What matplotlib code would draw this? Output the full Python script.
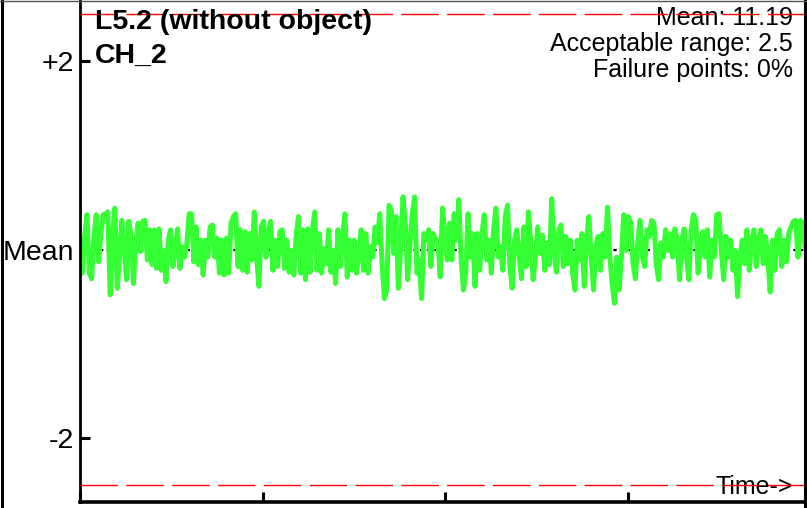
import numpy as np
import matplotlib
matplotlib.use('Agg')
import matplotlib.pyplot as plt
from matplotlib.lines import Line2D

# Deviation from the mean left to right
SIGNAL = [
    0.10, -0.25, 0.14, 0.37, -0.25, -0.31, 0.14, 0.37, -0.13, 0.17,
    0.37, 0.38, 0.40, -0.48, 0.10, 0.44, -0.41, -0.08, 0.31, 0.03,
    -0.32, 0.30, 0.14, -0.36, 0.07, 0.28, -0.02, 0.30, 0.31, -0.11,
    0.21, -0.16, 0.21, -0.20, 0.22, -0.22, -0.01, -0.34, 0.10, 0.21,
    -0.18, -0.01, 0.22, -0.20, 0.03, -0.08, 0.07, 0.38, 0.38, -0.13,
    0.24, -0.16, 0.10, -0.27, 0.10, -0.08, 0.24, 0.26, -0.08, 0.12,
    -0.25, 0.10, -0.27, 0.12, -0.25, 0.28, 0.35, 0.38, -0.18, 0.21,
    -0.22, 0.19, -0.24, 0.17, -0.11, 0.40, -0.08,
    -0.39, 0.24, 0.30, -0.08, 0.17, 0.30, -0.22, 0.10, -0.18, 0.19,
    0.21, -0.20, 0.10, -0.24, -0.01, -0.27, 0.14, 0.35, -0.25, 0.21,
    -0.32, 0.22, -0.24, 0.21, 0.40, -0.22, 0.17, -0.25, 0.01, -0.15,
    0.21, -0.24, -0.01, -0.36, 0.21, -0.18, 0.14, 0.38, -0.29, 0.10,
    -0.22, 0.10, -0.25, -0.04, 0.21, -0.22, 0.17, -0.25, 0.03, -0.08,
    0.24, 0.07, 0.38, -0.15, -0.52, -0.43, 0.47, 0.42, -0.04, 0.35,
    -0.41, 0.03, 0.56, 0.28, -0.32, 0.07, 0.38, 0.56, -0.25, -0.11,
    -0.52, 0.17, 0.10, 0.21, -0.18, 0.17, 0.10,
    0.10, -0.29, 0.44, 0.17, -0.11, 0.28, -0.11, 0.38, 0.10, 0.53,
    -0.08, -0.43, -0.25, 0.38, -0.08, 0.17, -0.39, 0.17, -0.22, 0.17,
    0.37, -0.11, 0.10, -0.25, 0.21, 0.44, -0.08, 0.03, -0.22, 0.35,
    0.47, -0.18, -0.41, 0.10, 0.21, -0.08, -0.31, 0.24, -0.18, 0.40,
    0.07, -0.32, -0.08, 0.24, -0.04, 0.15, -0.22, 0.07, -0.16, 0.54,
    -0.01, -0.24, 0.21, 0.26, -0.18, 0.14, -0.15, 0.10, -0.25, -0.43,
    0.10, -0.11, 0.17, -0.39, 0.10, 0.35, -0.08, -0.43, 0.03, 0.14,
    -0.22, 0.17, -0.08, 0.45, -0.08, -0.36, -0.57, -0.08, -0.43,
    -0.08, 0.37, -0.01, 0.35, 0.28, -0.15, -0.31, 0.07, 0.31, -0.08,
    -0.18, 0.21, 0.14, 0.31, 0.28, -0.16, -0.32, 0.07, -0.08, 0.21,
    -0.01, 0.17, -0.08, 0.22, 0.10, -0.32, 0.10, 0.22, -0.08, -0.32,
    0.21, 0.37, 0.31, -0.25, 0.07, 0.19, -0.08, 0.21, -0.29, 0.10,
    -0.08, 0.37, 0.38, -0.01, -0.32, 0.14, -0.08, 0.10, -0.22, -0.01,
    -0.50, -0.08, 0.10, -0.15, 0.21, -0.22, 0.07, 0.21, -0.18, 0.10,
    0.21, -0.15, 0.14, -0.08, -0.45, 0.10, -0.22, 0.17, 0.21, -0.18,
    0.10, -0.13, 0.17, 0.24, 0.30, 0.31, -0.08, 0.31, 0.28, 0.03,
]
ACCEPTABLE_RANGE = 2.5
Y_TICKS = [-2, 0, 2]
Y_LABELS = ['-2', 'Mean', '+2']
X_TICKS = [0, 1, 2, 3]
X_END = 3.97

TITLE = "L5.2 (without object)"
CHANNEL = "CH_2"
STATS = ["Mean: 11.19", "Acceptable range: 2.5", "Failure points: 0%"]

fig = plt.figure(figsize=(8.07, 5.08), dpi=100)
ax = fig.add_axes([80 / 807, 6 / 508, 725 / 807, 502 / 508])

t = np.linspace(0, X_END, len(SIGNAL))

# mean line underneath the trace
ax.axhline(0, color='black', lw=1.6, linestyle=(0, (1.5, 1.5)), zorder=1)
# signal
ax.plot(t, SIGNAL, color='#33ff33', lw=3.6, solid_joinstyle='round', zorder=2)
# acceptable range limits
for lim in (ACCEPTABLE_RANGE, -ACCEPTABLE_RANGE):
    ax.axhline(lim, color='red', lw=1.0, linestyle=(0, (27, 6)), zorder=3)

ax.set_xlim(0, X_END)
ax.set_ylim(-2.68, 2.65)
ax.set_yticks(Y_TICKS)
ax.set_yticklabels(Y_LABELS)
ax.set_xticks(X_TICKS)
ax.set_xticklabels([])
ax.tick_params(axis='y', direction='in', length=7.2, width=2.2, pad=4,
               labelsize=20.5)
ax.tick_params(axis='x', direction='in', length=7, width=2.2)
for side in ('top', 'right'):
    ax.spines[side].set_visible(False)
ax.spines['left'].set_linewidth(2)
ax.spines['bottom'].set_linewidth(2.6)

font = ['Liberation Sans', 'DejaVu Sans']
ax.text(15 / 725, 1 - 29 / 502, TITLE, transform=ax.transAxes, fontsize=20.5,
        fontweight='bold', family=font, ha='left', va='baseline', zorder=4)
ax.text(15 / 725, 1 - 63 / 502, CHANNEL, transform=ax.transAxes, fontsize=20.5,
        fontweight='bold', family=font, ha='left', va='baseline', zorder=4)
for i, s in enumerate(STATS):
    ax.text(713 / 725, 1 - (25 + 26 * i) / 502, s, transform=ax.transAxes,
            fontsize=18, family=font, ha='right', va='baseline', zorder=2)
ax.text(713 / 725, 8 / 502, "Time->", transform=ax.transAxes, fontsize=18,
        family=font, ha='right', va='baseline', zorder=2)
for lbl in ax.get_yticklabels():
    lbl.set_family(font)

# figure border
fig.add_artist(Line2D([1.5 / 807, 1.5 / 807], [0, 1], color='black', lw=2.2))
fig.add_artist(Line2D([805 / 807, 805 / 807], [0, 1], color='black', lw=2.2))
fig.add_artist(Line2D([0, 1], [1 - 0.5 / 508, 1 - 0.5 / 508], color='#555555', lw=1))

plt.savefig('out.png', dpi=100)
plt.close()
